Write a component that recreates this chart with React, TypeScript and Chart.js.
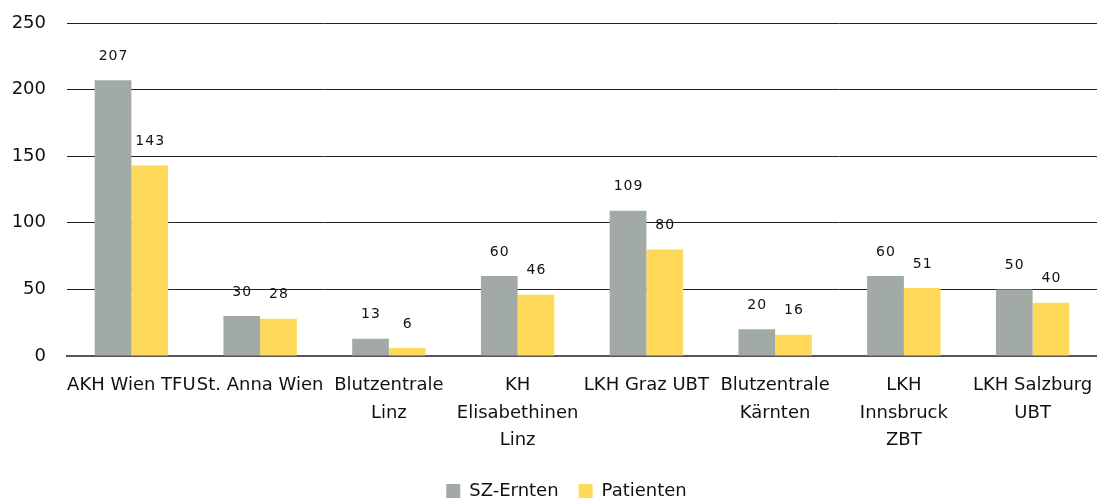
import React, { useEffect, useRef } from "react";
import { Chart, registerables } from "chart.js";

Chart.register(...registerables);

const categories: (string | string[])[] = [
  "AKH Wien TFU",
  "St. Anna Wien",
  ["Blutzentrale", "Linz"],
  ["KH", "Elisabethinen", "Linz"],
  "LKH Graz UBT",
  ["Blutzentrale", "Kärnten"],
  ["LKH", "Innsbruck", "ZBT"],
  ["LKH Salzburg", "UBT"],
];
const szErnten = [207, 30, 13, 60, 109, 20, 60, 50];
const patienten = [143, 28, 6, 46, 80, 16, 51, 40];
const yTicks = [0, 50, 100, 150, 200, 250];

const FONT = "'DejaVu Sans', sans-serif";

const valueLabels = {
  id: "valueLabels",
  afterDatasetsDraw(chart: any) {
    const ctx = chart.ctx;
    ctx.save();
    ctx.font = `14px ${FONT}`;
    (ctx as any).letterSpacing = "1px";
    ctx.fillStyle = "#111";
    ctx.textAlign = "center";
    ctx.textBaseline = "middle";
    chart.data.datasets.forEach((ds: any, i: number) => {
      const meta = chart.getDatasetMeta(i);
      meta.data.forEach((bar: any, j: number) => {
        ctx.fillText(String(ds.data[j]), bar.x + 0.5, bar.y - 24);
      });
    });
    ctx.restore();
  },
};

const legendTweak = {
  id: "legendTweak",
  beforeLayout(chart: any) {
    const lg = chart.legend;
    if (lg && !lg.__patched) {
      const origFit = lg.fit.bind(lg);
      lg.fit = function () {
        origFit();
        this.height = 39;
      };
      const origDraw = lg.draw.bind(lg);
      lg.draw = function () {
        const ctx = this.ctx;
        ctx.save();
        ctx.translate(18, 0);
        origDraw();
        ctx.restore();
      };
      lg.__patched = true;
    }
  },
};

export default function App() {
  const ref = useRef<HTMLCanvasElement>(null);
  useEffect(() => {
    const chart = new Chart(ref.current!, {
      type: "bar",
      data: {
        labels: categories,
        datasets: [
          { label: "SZ-Ernten", data: szErnten, backgroundColor: "#a2aaa5", categoryPercentage: 0.57, barPercentage: 1 },
          { label: "Patienten", data: patienten, backgroundColor: "#ffd95a", categoryPercentage: 0.57, barPercentage: 1 },
        ],
      },
      options: {
        animation: false,
        responsive: false,
        layout: { padding: { top: 23, right: 0, left: 0, bottom: 0 } },
        plugins: {
          tooltip: { enabled: false },
          legend: {
            position: "bottom",
            labels: {
              font: { family: FONT, size: 18 },
              color: "#111",
              boxWidth: 14,
              boxHeight: 14,
              padding: 20,
            },
          },
        },
        scales: {
          x: {
            grid: { display: false },
            border: { display: true, color: "#555", width: 2 },
            ticks: {
              font: { family: FONT, size: 18, lineHeight: 1.55 },
              color: "#111",
              maxRotation: 0,
              autoSkip: false,
              padding: 7,
            },
            afterFit(scale: any) {
              scale.height = 106;
              scale.paddingLeft = 0;
              scale.paddingRight = 0;
            },
          },
          y: {
            min: 0,
            max: 250,
            afterBuildTicks(scale: any) {
              scale.ticks = yTicks.map((v) => ({ value: v }));
            },
            grid: { color: "#222", lineWidth: 1, drawTicks: false },
            border: { display: false },
            ticks: { font: { family: FONT, size: 18 }, color: "#111", padding: 21 },
            afterFit(scale: any) {
              scale.width = 67;
              scale.paddingTop = 0;
              scale.paddingBottom = 0;
            },
          },
        },
      },
      plugins: [valueLabels, legendTweak],
    });
    return () => chart.destroy();
  }, []);
  return (
    <div style={{ position: "fixed", left: 0, top: 0, width: 1097, height: 501, background: "#fff", overflow: "hidden" }}>
      <canvas ref={ref} width={1097} height={501} />
    </div>
  );
}
